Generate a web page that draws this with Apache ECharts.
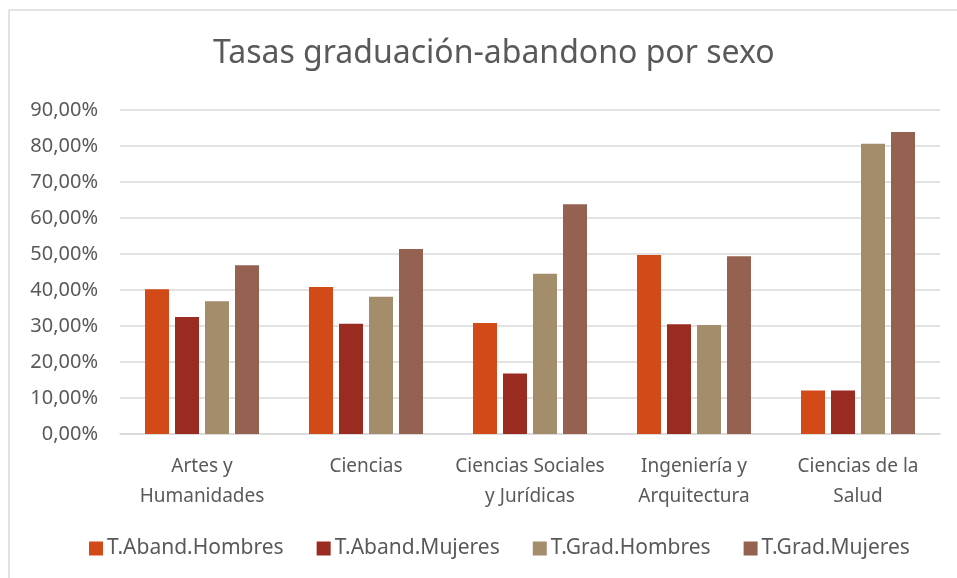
<!DOCTYPE html>
<html>
<head>
<meta charset="utf-8">
<script src="https://cdn.jsdelivr.net/npm/echarts@6/dist/echarts.min.js"></script>
<style>html,body{margin:0;padding:0;background:#fff}#c{width:957px;height:578px}</style>
</head>
<body>
<div id="c"></div>
<script>
const categories = ['Artes y\nHumanidades', 'Ciencias', 'Ciencias Sociales\ny Jurídicas', 'Ingeniería y\nArquitectura', 'Ciencias de la\nSalud'];
const seriesNames = ['T.Aband.Hombres', 'T.Aband.Mujeres', 'T.Grad.Hombres', 'T.Grad.Mujeres'];
const abandHombres = [40.2, 40.8, 30.8, 49.7, 12.1];
const abandMujeres = [32.5, 30.6, 16.8, 30.5, 12.1];
const gradHombres = [36.9, 38.1, 44.5, 30.3, 80.6];
const gradMujeres = [46.9, 51.4, 63.8, 49.4, 83.9];
const colors = ['#d24a17', '#9a2b20', '#a38d6b', '#956251'];
const yTicks = [0, 90, 10];

const dataSets = [abandHombres, abandMujeres, gradHombres, gradMujeres];
const chart = echarts.init(document.getElementById('c'), null, {renderer: 'canvas'});
const font = '"Noto Sans", sans-serif';
chart.setOption({
  animation: false,
  color: colors,
  title: {
    text: 'Tasas graduación-abandono por sexo',
    left: 208,
    top: 33,
    textStyle: {fontFamily: font, fontSize: 32, fontWeight: 'normal', color: '#595959'}
  },
  graphic: [
    {type: 'line', shape: {x1: 9, y1: 10, x2: 957, y2: 10}, style: {stroke: '#d9d9d9', lineWidth: 1.5}},
    {type: 'line', shape: {x1: 9, y1: 10, x2: 9, y2: 578}, style: {stroke: '#d9d9d9', lineWidth: 1.5}}
  ],
  legend: {
    data: seriesNames,
    left: 84,
    top: 533,
    itemWidth: 14,
    itemHeight: 14,
    itemGap: 33,
    icon: 'rect',
    textStyle: {fontFamily: font, fontSize: 21, color: '#595959', padding: [0, 0, 0, -1]}
  },
  grid: {left: 120, right: 17, top: 110, bottom: 144, containLabel: false},
  xAxis: {
    type: 'category',
    data: categories,
    axisLine: {lineStyle: {color: '#d9d9d9', width: 1.5}},
    axisTick: {show: false},
    axisLabel: {interval: 0, fontFamily: font, fontSize: 19, color: '#595959', lineHeight: 30, margin: 18}
  },
  yAxis: {
    type: 'value',
    min: yTicks[0],
    max: yTicks[1],
    interval: yTicks[2],
    axisLine: {show: false},
    axisTick: {show: false},
    splitLine: {lineStyle: {color: '#d9d9d9', width: 1.5}},
    axisLabel: {
      fontFamily: font, fontSize: 20, color: '#595959', margin: 22,
      formatter: v => v.toFixed(2).replace('.', ',') + '%'
    }
  },
  series: seriesNames.map((name, i) => ({
    name: name,
    type: 'bar',
    data: dataSets[i],
    barWidth: 24,
    barGap: '25%',
    itemStyle: {color: colors[i]}
  }))
});
</script>
</body>
</html>
